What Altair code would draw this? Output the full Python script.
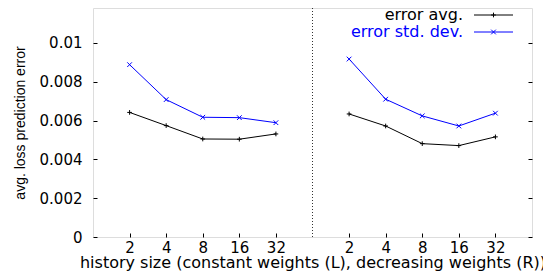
import altair as alt
import pandas as pd

# ---- data ----
sizes = ["2", "4", "8", "16", "32"]
left_avg = [0.00642, 0.00574, 0.00505, 0.00504, 0.00531]
left_std = [0.00888, 0.00708, 0.00617, 0.00615, 0.00589]
right_avg = [0.00634, 0.00572, 0.00481, 0.00471, 0.00516]
right_std = [0.00917, 0.00710, 0.00624, 0.00572, 0.00638]
series_names = ["error avg.", "error std. dev."]
series_colors = ["#000000", "#0000ff"]
y_ticks = [0, 0.002, 0.004, 0.006, 0.008, 0.01]

PLUS = "M-1,0L1,0M0,-1L0,1"
CROSS = "M-1,-1L1,1M-1,1L1,-1"
shapes = [PLUS, CROSS]

rows = []
for panel, avg, std, off in [("L", left_avg, left_std, 0), ("R", right_avg, right_std, 6)]:
    for i, s in enumerate(sizes):
        rows.append({"panel": panel, "pos": off + i + 1, "size": s, "series": series_names[0], "value": avg[i]})
        rows.append({"panel": panel, "pos": off + i + 1, "size": s, "series": series_names[1], "value": std[i]})
df = pd.DataFrame(rows)

tick_positions = [1, 2, 3, 4, 5, 7, 8, 9, 10, 11]
label_arr = [""] * 12
for i, s in enumerate(sizes):
    label_arr[i + 1] = s
    label_arr[i + 7] = s
label_expr = "[" + ",".join("'" + l + "'" for l in label_arr) + "][datum.value]"

xscale = alt.Scale(domain=[0, 12], nice=False, zero=False)
yscale = alt.Scale(domain=[0, 0.0118], nice=False, zero=True)

x_axis = alt.Axis(values=tick_positions, labelExpr=label_expr, orient="bottom",
                  offset=-4, tickSize=4, domain=False, grid=False, zindex=1,
                  labelPadding=3, labelFont="DejaVu Sans", labelFontSize=15,
                  labelColor="black", tickColor="black", tickWidth=1,
                  title="history size (constant weights (L), decreasing weights (R))",
                  titleFont="DejaVu Sans", titleFontSize=16, titleFontWeight="normal",
                  titleColor="black", titleBaseline="alphabetic", titleY=34, labelFlush=False)
x_enc = alt.X("pos:Q", scale=xscale, axis=x_axis)
y_enc = alt.Y("value:Q", scale=yscale,
              axis=alt.Axis(values=y_ticks, format="~g", orient="left",
                            offset=-4, tickSize=4, domain=False, grid=False, zindex=1,
                            labelPadding=11, labelFont="DejaVu Sans", labelFontSize=15,
                            labelColor="black", tickColor="black", tickWidth=1,
                            title="avg. loss prediction error",
                            titleFont="Liberation Sans", titleFontSize=14, titleFontWeight="normal",
                            titleColor="black", titlePadding=12))

color_enc = alt.Color("series:N", scale=alt.Scale(domain=series_names, range=series_colors), legend=None)

base = alt.Chart(df)
lines = base.mark_line(strokeWidth=1).encode(x=x_enc, y=y_enc, color=color_enc, detail="panel:N")
points = base.mark_point(filled=False, size=22, strokeWidth=1, opacity=1).encode(
    x=x_enc,
    y=y_enc,
    color=color_enc,
    shape=alt.Shape("series:N", scale=alt.Scale(domain=series_names, range=shapes), legend=None),
)

# right mirror ticks
mirror = alt.Chart(pd.DataFrame({"value": y_ticks})).mark_point(opacity=0).encode(
    y=alt.Y("value:Q", scale=yscale,
            axis=alt.Axis(values=y_ticks, orient="right", offset=-4, tickSize=4, domain=False,
                          grid=False, labels=False, title=None, tickColor="black", tickWidth=1,
                          zindex=1)),
)

divider = alt.Chart(pd.DataFrame({"pos": [6]})).mark_rule(
    color="#333333", strokeWidth=1, strokeDash=[1, 2]).encode(x=x_enc)

main = alt.layer(lines, points, divider)

legend_layers = []
legend_y = [7, 24]
for name, col, shp, ly in zip(series_names, series_colors, shapes, legend_y):
    ldf = pd.DataFrame({"label": [name]})
    legend_layers.append(alt.Chart(ldf).mark_text(
        align="right", baseline="middle", font="DejaVu Sans", fontSize=16, color=col
    ).encode(text="label:N", x=alt.value(370), y=alt.value(ly)))
    legend_layers.append(alt.Chart(ldf).mark_rule(color=col, strokeWidth=1).encode(
        x=alt.value(381), x2=alt.value(420), y=alt.value(ly)))
    legend_layers.append(alt.Chart(ldf).mark_point(
        filled=False, size=22, strokeWidth=1, color=col, opacity=1, shape=shp
    ).encode(x=alt.value(400.5), y=alt.value(ly)))

chart = alt.layer(main, mirror, *legend_layers).resolve_axis(
    y="independent").properties(
    width=439, height=229,
    autosize=alt.AutoSizeParams(type="none"),
    padding={"left": 85, "top": 0, "right": 11, "bottom": 36},
).configure_view(stroke="black", strokeWidth=1.5).configure(background="white")

chart.save("out.html", embed_options={"renderer": "svg", "actions": False})
